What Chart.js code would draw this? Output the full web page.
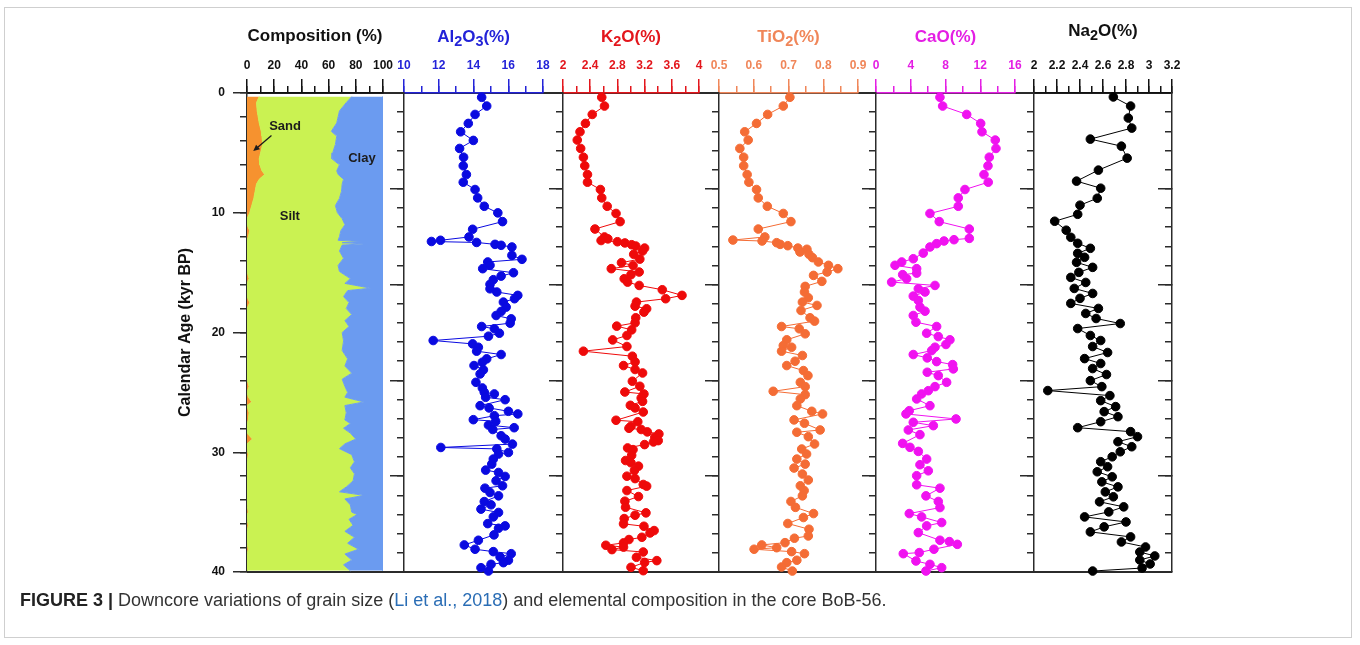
<!DOCTYPE html>
<html>
<head>
<meta charset="utf-8">
<title>Figure 3 - BoB-56</title>
<script src="https://cdn.jsdelivr.net/npm/chart.js@4.4.1/dist/chart.umd.min.js"></script>
<style>
  html, body { margin: 0; padding: 0; background: #fff; }
  body { width: 1360px; height: 645px; position: relative; overflow: hidden; font-family: "Liberation Sans", Arial, sans-serif; }
  .frame { position: absolute; left: 4px; top: 7px; width: 1348px; height: 631px; border: 1px solid #cfcfcf; box-sizing: border-box; }
  .rule { position: absolute; background: #2b2b2b; height: 2px; left: 247px; width: 925px; }
  canvas { position: absolute; left: 0; top: 0; }
  .ptitle { position: absolute; width: 200px; margin-left: -100px; text-align: center; font-size: 17px; line-height: 20px; font-weight: bold; white-space: nowrap; }
  .ptitle sub { font-size: 0.85em; vertical-align: -0.28em; line-height: 0; }
  .caption { position: absolute; left: 20px; top: 589px; font-size: 18px; line-height: 22px; color: #333; white-space: nowrap; }
  .caption b { color: #222; }
  .caption .ref { color: #2a6db5; }
</style>
</head>
<body>
<div class="frame"></div>
<div class="rule" style="top:92px"></div>
<div class="rule" style="top:571px"></div>
<canvas id="comp" width="1360" height="645"></canvas>
<canvas id="al2o3" width="1360" height="645"></canvas>
<canvas id="k2o" width="1360" height="645"></canvas>
<canvas id="tio2" width="1360" height="645"></canvas>
<canvas id="cao" width="1360" height="645"></canvas>
<canvas id="na2o" width="1360" height="645"></canvas>
<div class="caption"><b>FIGURE 3 |</b> Downcore variations of grain size (<span class="ref">Li et al., 2018</span>) and elemental composition in the core BoB-56.</div>
<script>
// ---- tick labels ----
const compTicks = [0, 20, 40, 60, 80, 100];
const al2o3Ticks = [10, 12, 14, 16, 18];
const k2oTicks = [2, 2.4, 2.8, 3.2, 3.6, 4];
const tio2Ticks = [0.5, 0.6, 0.7, 0.8, 0.9];
const caoTicks = [0, 4, 8, 12, 16];
const na2oTicks = [2, 2.2, 2.4, 2.6, 2.8, 3, 3.2];
const ageTicks = [0, 10, 20, 30, 40];
const ageTicksElem = [0, 8, 16, 24, 32, 40];

// ---- grain size (%), by calendar age (kyr BP) ----
const compAge = [0.3,0.8,1.5,2.5,3.2,3.6,4.3,5.0,5.5,6.0,
  6.5,6.8,7.2,7.6,8.2,8.8,9.4,10.0,10.5,11.0,
  11.5,12.0,12.3,12.4,12.5,12.6,12.7,13.2,13.8,14.4,
  14.9,15.5,15.9,16.3,16.5,17.0,17.5,18.0,18.5,19.0,
  19.5,20.0,20.7,21.5,22.2,22.8,23.4,23.9,24.5,25.0,
  25.4,25.8,26.1,26.7,27.3,27.6,28.0,28.4,28.9,29.3,
  29.7,30.2,30.8,31.3,31.8,32.4,32.9,33.3,33.6,33.9,
  34.4,35.0,35.2,35.6,36.1,36.6,37.1,37.6,38.1,38.5,
  39.0,39.4,39.9];
const sand = [9,7,7.5,9,10.5,11,11.5,10,9,9.5,
  11,13,9,7,6,5,3.5,2,0,0,
  2,1,0,0,0,0,0,0,0,0,
  0,1.5,0,0,0,0,2,0,0,0,
  0,0,0,0,0,0,0,0,1.5,0,
  1,3.5,0,1.5,1,0,0,0,4,0,
  0,1,0,0,0,0,0,0,0,0,
  0,1,0,0,1,0,0,0,1,0,
  0,0,0];
const silt = [68,66,60.5,57,51.5,55,53.5,53,53.5,58.5,
  55,54,62,63,63.5,63,61.5,64.5,70,72,
  67,67,67,84,70,86,70,68,71,67,
  68,74.5,72,91,74,71,73,73,77,72,
  75,70,71,70,74,72,77,70,70.5,74,
  71,82.5,72,71.5,71,76,71,76,76,72,
  68,76,79,76,79,78,73,68,86,72,
  76,76,81,75,77,72,79,74,81,72,
  77,71,76];
const clay = [23,27,32,34,38,34,35,37,37.5,32,
  34,33,29,30,30.5,32,35,33.5,30,28,
  31,32,33,16,30,14,30,32,29,33,
  32,24,28,9,26,29,25,27,23,28,
  25,30,29,30,26,28,23,30,28,26,
  28,14,28,27,28,24,29,24,20,28,
  32,23,21,24,21,22,27,32,14,28,
  24,23,19,25,22,28,21,26,18,28,
  23,29,24];

// ---- Al2O3 (%) ----
const al2o3Age = [0.36,1.09,1.79,2.54,3.24,3.96,4.63,5.36,6.08,6.81,
  7.45,8.06,8.76,9.46,10.01,10.74,11.38,12.02,12.30,12.40,
  12.48,12.64,12.72,12.86,13.56,13.89,14.11,14.39,14.67,15.01,
  15.29,15.59,15.98,16.35,16.62,16.90,17.18,17.46,17.88,18.24,
  18.58,18.86,19.22,19.50,19.69,20.06,20.31,20.67,20.95,21.23,
  21.56,21.84,22.20,22.48,22.76,23.12,23.46,24.16,24.63,24.99,
  25.13,25.41,25.61,26.11,26.30,26.58,26.80,26.95,27.28,27.42,
  27.73,27.95,28.10,28.62,28.90,29.32,29.60,29.72,30.02,30.15,
  30.57,30.99,31.49,31.69,32.02,32.38,32.80,33.00,33.36,33.64,
  34.12,34.39,34.75,35.03,35.40,35.96,36.15,36.35,36.90,37.35,
  37.74,38.10,38.30,38.47,38.74,39.02,39.22,39.36,39.64,39.92];
const al2o3 = [14.47,14.76,14.09,13.70,13.26,13.99,13.20,13.43,13.41,13.59,
  13.41,14.09,14.24,14.62,15.40,15.67,13.95,13.74,12.10,11.58,
  14.18,15.24,15.59,16.21,16.21,16.79,14.82,14.95,14.53,16.30,
  15.59,15.14,14.95,14.95,15.34,16.55,16.36,15.72,15.88,15.59,
  15.30,16.17,16.11,14.47,15.20,15.49,14.86,11.68,13.95,14.28,
  14.18,15.59,14.76,14.51,14.03,14.57,14.38,14.14,14.51,14.62,
  15.20,14.70,15.82,14.38,14.90,16.01,16.55,15.20,13.99,15.28,
  14.86,16.34,15.11,15.59,15.82,16.24,12.12,15.34,16.01,15.44,
  15.14,15.05,14.70,15.44,15.82,15.30,15.67,14.66,14.95,15.44,
  14.62,15.01,14.43,15.44,15.14,14.82,15.82,15.44,15.18,14.28,
  13.47,14.09,15.14,16.17,15.53,16.01,15.72,15.01,14.43,14.86];

// ---- K2O (%) ----
const k2oAge = [0.36,1.09,1.79,2.54,3.24,3.93,4.63,5.36,6.08,6.81,
  7.45,8.06,8.76,9.46,10.06,10.74,11.36,12.02,12.18,12.32,
  12.42,12.52,12.67,12.78,12.95,13.20,13.47,13.87,14.17,14.40,
  14.67,14.95,15.17,15.51,15.79,16.07,16.43,16.90,17.18,17.46,
  17.80,18.02,18.30,18.77,19.19,19.47,19.78,20.25,20.62,21.17,
  21.56,21.98,22.45,22.76,23.09,23.38,24.07,24.49,24.97,25.13,
  25.47,25.75,26.08,26.30,26.64,27.33,27.45,27.83,28.00,28.10,
  28.30,28.47,28.75,29.03,29.14,29.36,29.64,29.78,30.25,30.69,
  30.88,31.16,31.52,32.00,32.20,32.69,32.83,33.20,33.70,34.09,
  34.59,35.06,35.26,35.54,35.98,36.18,36.54,36.74,37.10,37.29,
  37.57,37.77,37.92,38.13,38.33,38.77,39.05,39.20,39.61,39.89];
const k2o = [2.57,2.61,2.43,2.33,2.25,2.21,2.26,2.30,2.32,2.36,
  2.36,2.55,2.57,2.65,2.78,2.84,2.47,2.61,2.66,2.56,
  2.80,2.91,3.01,3.07,3.20,3.17,3.04,3.13,2.86,3.03,
  2.71,3.12,3.00,2.90,2.95,3.12,3.46,3.75,3.51,3.08,
  3.06,3.23,3.19,3.07,3.06,2.79,3.01,2.94,2.73,2.94,
  2.30,3.02,3.06,2.89,3.06,3.17,3.02,3.13,2.91,3.19,
  3.15,3.17,2.99,3.06,3.18,2.78,3.10,3.00,2.97,3.15,
  3.24,3.41,3.35,3.40,3.33,3.20,2.95,3.03,3.01,2.92,
  3.00,3.11,3.05,2.94,3.06,3.18,3.23,2.94,3.11,2.91,
  2.92,3.22,3.06,2.90,2.89,3.19,3.34,3.28,3.16,2.97,
  2.89,2.63,2.89,2.72,3.18,3.08,3.38,3.20,3.00,3.18];

// ---- TiO2 (%) ----
const tio2Age = [0.36,1.09,1.79,2.54,3.24,3.93,4.63,5.36,6.08,6.81,
  7.45,8.06,8.76,9.46,10.06,10.74,11.36,12.02,12.28,12.36,
  12.50,12.64,12.75,12.95,13.05,13.28,13.47,13.75,14.11,14.39,
  14.67,14.95,15.23,15.73,16.15,16.62,17.10,17.46,17.74,18.16,
  18.77,19.05,19.50,19.69,20.11,20.61,21.09,21.23,21.56,21.92,
  22.40,22.76,23.18,23.60,24.16,24.52,24.91,25.19,25.55,26.11,
  26.58,26.80,27.30,27.58,28.14,28.33,28.70,29.31,29.73,30.15,
  30.57,30.99,31.32,31.82,32.32,32.80,33.20,33.64,34.11,34.60,
  35.12,35.45,35.95,36.43,36.99,37.18,37.55,37.74,37.97,38.10,
  38.30,38.47,39.02,39.22,39.58,39.92];
const tio2 = [0.704,0.685,0.640,0.608,0.574,0.584,0.560,0.571,0.571,0.581,
  0.586,0.608,0.613,0.639,0.685,0.707,0.613,0.632,0.540,0.624,
  0.666,0.676,0.698,0.727,0.753,0.733,0.759,0.769,0.786,0.815,
  0.842,0.811,0.772,0.796,0.748,0.746,0.757,0.740,0.782,0.736,
  0.762,0.775,0.680,0.731,0.748,0.695,0.685,0.709,0.680,0.740,
  0.719,0.695,0.743,0.756,0.734,0.748,0.656,0.748,0.734,0.724,
  0.767,0.798,0.716,0.746,0.791,0.724,0.757,0.775,0.738,0.752,
  0.724,0.748,0.716,0.740,0.757,0.734,0.745,0.740,0.707,0.720,
  0.772,0.743,0.698,0.759,0.757,0.717,0.690,0.623,0.666,0.601,
  0.709,0.746,0.724,0.695,0.680,0.711];

// ---- CaO (%) ----
const caoAge = [0.36,1.09,1.79,2.54,3.24,3.93,4.63,5.36,6.08,6.81,
  7.45,8.06,8.76,9.46,10.06,10.74,11.36,12.14,12.25,12.36,
  12.58,12.86,13.37,13.84,14.11,14.39,14.67,15.04,15.17,15.51,
  15.79,16.07,16.35,16.62,16.96,17.32,17.88,18.22,18.58,19.14,
  19.50,20.06,20.34,20.61,21.00,21.23,21.51,21.84,22.12,22.43,
  22.68,23.04,23.32,23.60,24.16,24.52,24.86,25.13,25.55,26.11,
  26.53,26.80,27.22,27.50,27.78,28.14,28.53,29.26,29.59,29.93,
  30.57,31.04,31.55,31.96,32.72,33.00,33.64,34.11,34.62,35.12,
  35.40,35.87,36.15,36.71,37.35,37.46,37.69,38.10,38.38,38.47,
  39.08,39.36,39.64,39.92];
const cao = [7.36,7.67,10.44,12.05,12.20,13.73,13.81,13.04,12.89,12.43,
  12.92,10.24,9.47,9.47,6.21,7.28,10.74,10.74,8.98,7.83,
  6.98,6.21,5.44,4.29,2.96,2.19,4.68,4.68,3.07,3.53,
  1.80,6.79,4.87,5.64,4.29,4.87,5.06,5.64,4.29,4.60,
  6.98,5.83,7.17,8.51,8.05,6.79,6.41,4.29,5.90,6.98,
  8.82,8.90,5.90,7.17,8.13,6.79,6.02,5.25,4.68,6.21,
  3.83,3.45,9.21,4.29,6.60,3.72,5.06,3.07,3.91,4.87,
  5.83,5.06,6.02,4.68,4.68,7.36,5.75,7.17,7.36,3.83,
  5.25,7.56,5.83,4.87,7.36,8.44,9.36,6.67,4.98,3.14,
  4.60,6.21,7.56,5.75];

// ---- Na2O (%) ----
const na2oAge = [0.33,1.09,2.09,2.93,3.85,4.44,5.44,6.44,7.36,7.95,
  8.79,9.37,10.13,10.71,11.46,12.05,12.55,12.97,13.39,13.72,
  14.14,14.56,14.98,15.40,15.82,16.32,16.74,17.15,17.57,17.99,
  18.41,18.83,19.25,19.67,20.25,20.67,21.17,21.67,22.18,22.59,
  23.01,23.51,24.02,24.52,24.85,25.27,25.69,26.19,26.61,27.03,
  27.45,27.95,28.28,28.70,29.12,29.54,29.96,30.38,30.79,31.21,
  31.63,32.05,32.47,32.89,33.31,33.72,34.14,34.56,34.98,35.40,
  35.82,36.23,36.65,37.07,37.49,37.91,38.33,38.66,39.00,39.33,
  39.67,39.92];
const na2o = [2.69,2.84,2.82,2.85,2.49,2.76,2.81,2.56,2.37,2.58,
  2.55,2.40,2.38,2.18,2.28,2.32,2.38,2.49,2.38,2.44,
  2.37,2.51,2.39,2.32,2.45,2.35,2.51,2.40,2.32,2.56,
  2.45,2.54,2.75,2.38,2.49,2.58,2.51,2.64,2.44,2.58,
  2.51,2.63,2.49,2.59,2.12,2.66,2.58,2.71,2.61,2.73,
  2.58,2.38,2.84,2.90,2.73,2.85,2.75,2.68,2.58,2.64,
  2.55,2.68,2.59,2.73,2.62,2.69,2.57,2.78,2.65,2.44,
  2.80,2.61,2.49,2.84,2.76,2.97,2.92,3.05,2.92,3.01,
  2.94,2.51];

// ---- layout ----
const FONT = "'Liberation Sans', Arial, sans-serif";
const W = 1360, H = 645;
const TOP = 93, BOTTOM = 572;
const AXIS_DARK = '#2b2b2b';

Chart.defaults.font.family = FONT;

function pts(ages, vals) {
  return ages.map((a, i) => ({ x: vals[i], y: a }));
}

function stepTicks(min, max, step) {
  const out = [];
  const n = Math.round((max - min) / step);
  for (let i = 0; i <= n; i++) out.push({ value: +(min + i * step).toFixed(6) });
  return out;
}

function fixPad(s) {
  s.paddingLeft = 0; s.paddingRight = 0; s.paddingTop = 0; s.paddingBottom = 0;
}

function tickText(v) {
  return String(+Number(v).toFixed(3));
}

function ageAxis(p, major, opts) {
  return {
    type: 'linear', axis: 'y', position: opts.position, reverse: true, min: 0, max: 40,
    weight: major ? 1 : 0,
    afterBuildTicks: s => {
      s.ticks = major ? p.yTicks.map(v => ({ value: v })) : stepTicks(0, 40, p.yMinor);
    },
    ticks: {
      display: major && !!p.yLabels, color: '#111', callback: tickText,
      font: { family: FONT, size: 12, weight: 'bold' }, padding: 8
    },
    grid: { drawOnChartArea: false, tickLength: opts.tickLength, color: AXIS_DARK, tickColor: AXIS_DARK, lineWidth: 1.5, tickWidth: 1.5 },
    border: { display: major, color: AXIS_DARK, width: 1.5 },
    title: {
      display: major && !!p.yTitle, text: p.yTitle || '', color: '#111',
      font: { family: FONT, size: 16, weight: 'bold' }, padding: 0
    },
    afterFit: s => { s.width = (major && p.yW) ? p.yW : 0; fixPad(s); }
  };
}

// panel title as page text, so the chemical formulas keep real subscripts
function addTitle(p) {
  const d = document.createElement('div');
  d.className = 'ptitle';
  d.style.left = ((p.left + p.right) / 2) + 'px';
  d.style.top = (p.titleY - 9.8) + 'px';
  d.style.color = p.titleColor || p.color;
  d.innerHTML = p.title;
  document.body.appendChild(d);
}

function makePanel(id, p, datasets, plugins) {
  const xH = 62;
  addTitle(p);
  const scales = {
    x: {
      type: 'linear', axis: 'x', position: 'top', min: p.min, max: p.max, weight: 1,
      stacked: !!p.stacked,
      afterBuildTicks: s => { s.ticks = p.ticks.map(v => ({ value: v })); },
      ticks: {
        color: p.color, font: { family: FONT, size: 12, weight: 'bold' }, callback: tickText,
        padding: 6, maxRotation: 0, autoSkip: false
      },
      grid: { drawOnChartArea: false, tickLength: 14, color: p.color, tickColor: p.color, lineWidth: 1.5, tickWidth: 1.5 },
      border: { display: true, color: p.color, width: 1.5 },
      title: { display: false },
      afterFit: s => { s.height = xH; fixPad(s); }
    },
    xm: {
      type: 'linear', axis: 'x', position: 'top', min: p.min, max: p.max, weight: 0,
      afterBuildTicks: s => { s.ticks = stepTicks(p.min, p.max, p.minor); },
      ticks: { display: false },
      grid: { drawOnChartArea: false, tickLength: 7, color: p.color, tickColor: p.color, lineWidth: 1.5, tickWidth: 1.5 },
      border: { display: false },
      afterFit: s => { s.height = 0; fixPad(s); }
    },
    y: ageAxis(p, true, { position: 'left', tickLength: 14 }),
    ym: ageAxis(p, false, { position: 'left', tickLength: 7 })
  };
  if (p.rightTicks) {
    // inward-pointing ticks on the closing frame line
    const q = { yTicks: p.yTicks, yMinor: p.yMinor };
    scales.yr = ageAxis(q, true, { position: 'right', tickLength: -14 });
    scales.yrm = ageAxis(q, false, { position: 'right', tickLength: -7 });
  }
  return new Chart(document.getElementById(id), {
    type: 'line',
    data: { datasets },
    options: {
      responsive: false,
      animation: false,
      events: [],
      devicePixelRatio: 1,
      indexAxis: 'y',
      layout: {
        autoPadding: false,
        padding: { left: p.left - (p.yW || 0), right: W - p.right, top: TOP - xH, bottom: H - BOTTOM }
      },
      plugins: { legend: { display: false }, tooltip: { enabled: false } },
      scales
    },
    plugins: plugins || []
  });
}

function pointSeries(ages, vals, color) {
  return {
    data: pts(ages, vals),
    xAxisID: 'x', yAxisID: 'y',
    borderColor: color, backgroundColor: color,
    pointBackgroundColor: color, pointBorderColor: color,
    borderWidth: 1, pointRadius: 4.3, pointBorderWidth: 1,
    tension: 0, clip: false
  };
}

// ---- composition panel (stacked areas) ----
const SAND = '#f6922f', SILT = '#caf252', CLAY = '#6b9bf0';

const compNotes = {
  id: 'compNotes',
  afterDatasetsDraw(chart) {
    const { ctx } = chart;
    const x = chart.scales.x, y = chart.scales.y;
    ctx.save();
    ctx.font = 'bold 13px ' + FONT;
    ctx.fillStyle = '#1c1c1c';
    ctx.textAlign = 'center';
    ctx.textBaseline = 'middle';
    ctx.fillText('Sand', x.getPixelForValue(28), y.getPixelForValue(2.8));
    ctx.fillText('Clay', x.getPixelForValue(84.5), y.getPixelForValue(5.45));
    ctx.fillText('Silt', x.getPixelForValue(31.5), y.getPixelForValue(10.3));
    // arrow from the Sand label to the sand band
    const x0 = x.getPixelForValue(18), y0 = y.getPixelForValue(3.55);
    const x1 = x.getPixelForValue(4.6), y1 = y.getPixelForValue(4.85);
    const ang = Math.atan2(y1 - y0, x1 - x0);
    ctx.strokeStyle = '#1c1c1c';
    ctx.lineWidth = 1.3;
    ctx.beginPath();
    ctx.moveTo(x0, y0);
    ctx.lineTo(x1 - 4 * Math.cos(ang), y1 - 4 * Math.sin(ang));
    ctx.stroke();
    ctx.beginPath();
    ctx.moveTo(x1, y1);
    ctx.lineTo(x1 - 7 * Math.cos(ang - 0.45), y1 - 7 * Math.sin(ang - 0.45));
    ctx.lineTo(x1 - 7 * Math.cos(ang + 0.45), y1 - 7 * Math.sin(ang + 0.45));
    ctx.closePath();
    ctx.fill();
    ctx.restore();
  }
};

makePanel('comp', {
  left: 247, right: 383, min: 0, max: 100, ticks: compTicks, minor: 10,
  color: '#111', title: 'Composition (%)', titleY: 35.5, stacked: true,
  yTicks: ageTicks, yMinor: 2, yW: 70.6, yLabels: true, yTitle: 'Calendar Age (kyr BP)'
}, [
  { label: 'Sand', data: pts(compAge, sand), xAxisID: 'x', yAxisID: 'y', fill: 'origin',
    backgroundColor: SAND, borderColor: SILT, borderWidth: 1, pointRadius: 0, tension: 0 },
  { label: 'Silt', data: pts(compAge, silt), xAxisID: 'x', yAxisID: 'y', fill: '-1',
    backgroundColor: SILT, borderColor: CLAY, borderWidth: 1, pointRadius: 0, tension: 0 },
  { label: 'Clay', data: pts(compAge, clay), xAxisID: 'x', yAxisID: 'y', fill: '-1',
    backgroundColor: CLAY, borderColor: CLAY, borderWidth: 1, pointRadius: 0, tension: 0 }
], [compNotes]);

// ---- element panels ----
const elemBase = { yTicks: ageTicksElem, yMinor: 1.6, yW: 0 };

makePanel('al2o3', Object.assign({
  left: 404, right: 543, min: 10, max: 18, ticks: al2o3Ticks, minor: 1,
  color: '#2323d8', title: 'Al<sub>2</sub>O<sub>3</sub>(%)', titleY: 36.5
}, elemBase), [pointSeries(al2o3Age, al2o3, '#0a0ae0')]);

makePanel('k2o', Object.assign({
  left: 563, right: 699, min: 2, max: 4, ticks: k2oTicks, minor: 0.2,
  color: '#e3161c', title: 'K<sub>2</sub>O(%)', titleY: 37
}, elemBase), [pointSeries(k2oAge, k2o, '#ee0a0a')]);

makePanel('tio2', Object.assign({
  left: 719, right: 858, min: 0.5, max: 0.9, ticks: tio2Ticks, minor: 0.05,
  color: '#f08659', title: 'TiO<sub>2</sub>(%)', titleY: 37
}, elemBase), [pointSeries(tio2Age, tio2, '#f46c35')]);

makePanel('cao', Object.assign({
  left: 876, right: 1015, min: 0, max: 16, ticks: caoTicks, minor: 2,
  color: '#e41ee4', title: 'CaO(%)', titleY: 37
}, elemBase), [pointSeries(caoAge, cao, '#f012f0')]);

makePanel('na2o', Object.assign({
  left: 1034, right: 1172, min: 2, max: 3.2, ticks: na2oTicks, minor: 0.1,
  color: '#111', title: 'Na<sub>2</sub>O(%)', titleY: 31, rightTicks: true
}, elemBase), [pointSeries(na2oAge, na2o, '#000')]);
</script>
</body>
</html>
